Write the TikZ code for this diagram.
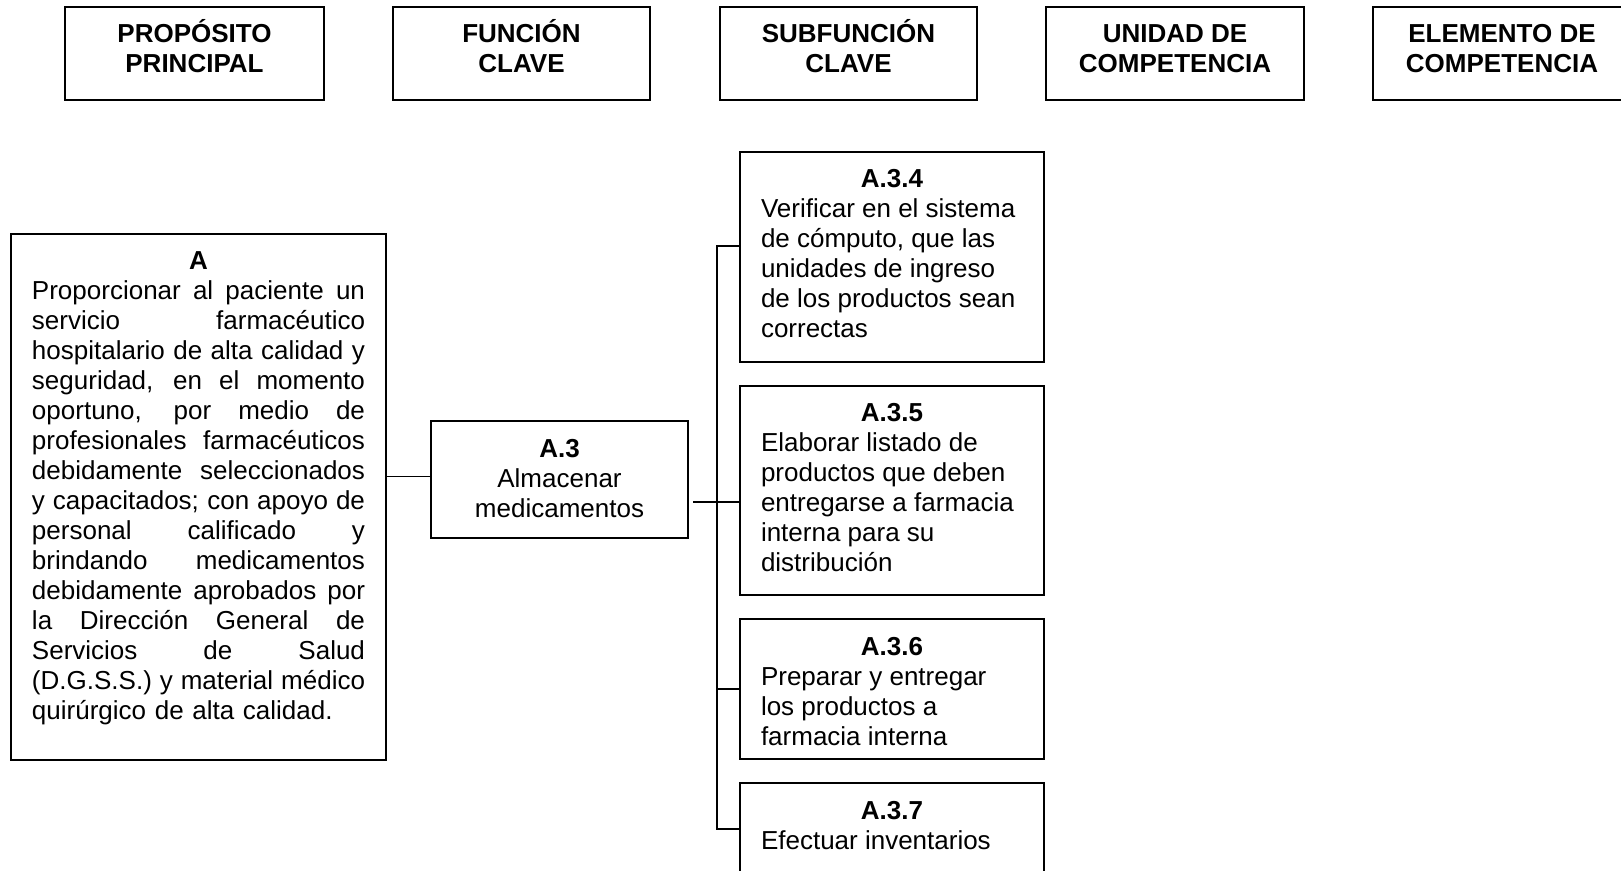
\documentclass[tikz,border=0pt]{standalone}
\usepackage{fontspec}
\setmainfont{Liberation Sans}
\usetikzlibrary{calc}
% width of the justified block in box A
\newlength\Atw
\setlength\Atw{166.5pt}
% one justified line: the word gaps stretch to the full block width
\newcommand\jl[1]{\leavevmode\hbox to \Atw{\spaceskip=3.6pt plus 1fil minus 1pt\relax #1}}

\begin{document}
\begin{tikzpicture}[x=0.5pt,y=-0.5pt,
  box/.style={draw, line width=0.75pt, inner sep=0pt, outer sep=0pt},
  lbl/.style={inner sep=0pt, outer sep=0pt, font=\fontsize{13pt}{15pt}\selectfont},
  head/.style={lbl, anchor=north, align=center, font=\fontsize{13pt}{15pt}\selectfont\bfseries},
  ttl/.style={lbl, anchor=north, font=\fontsize{13pt}{15pt}\selectfont\bfseries},
  ctr/.style={lbl, anchor=north, align=center},
  body/.style={lbl, anchor=north west, align=left},
  link/.style={line width=0.75pt}]

\useasboundingbox (0,0) rectangle (1621,871);
\clip (0,0) rectangle (1621,871);

% column headings
\node[box, minimum width=129.5pt, minimum height=46.5pt] (h1) at (194.5,53.5) {};
\node[box, minimum width=128.5pt, minimum height=46.5pt] (h2) at (521.5,53.5) {};
\node[box, minimum width=128.5pt, minimum height=46.5pt] (h3) at (848.5,53.5) {};
\node[box, minimum width=129pt, minimum height=46.5pt] (h4) at (1175,53.5) {};
\node[box, minimum width=129pt, minimum height=46.5pt] (h5) at (1502,53.5) {};
\node[head] (h1t) at ($(h1.north)+(0,15)$) {\strut\smash{PROPÓSITO}\\PRINCIPAL};
\node[head] (h2t) at ($(h2.north)+(0,15)$) {\strut\smash{FUNCIÓN}\\CLAVE};
\node[head] (h3t) at ($(h3.north)+(0,15)$) {\strut\smash{SUBFUNCIÓN}\\CLAVE};
\node[head] (h4t) at ($(h4.north)+(0,15)$) {\strut\smash{UNIDAD DE}\\COMPETENCIA};
\node[head] (h5t) at ($(h5.north)+(0,15)$) {\strut\smash{ELEMENTO DE}\\COMPETENCIA};

% main purpose
\node[box, minimum width=187.5pt, minimum height=263pt] (bA) at (198.5,497) {};
\node[ttl] (tA) at ($(bA.north)+(0,15)$) {\strut A};
\node[lbl, anchor=north, text width=\Atw, align=left] (xA) at ($(bA.north)+(0,45)$) {%
\strut\jl{Proporcionar al paciente un}\\
\jl{servicio farmacéutico}\\
\jl{hospitalario de alta calidad y}\\
\jl{seguridad, en el momento}\\
\jl{oportuno, por medio de}\\
\jl{profesionales farmacéuticos}\\
\jl{debidamente seleccionados}\\
\jl{y capacitados; con apoyo de}\\
\jl{personal calificado y}\\
\jl{brindando medicamentos}\\
\jl{debidamente aprobados por}\\
\jl{la Dirección General de}\\
\jl{Servicios de Salud}\\
\jl{(D.G.S.S.) y material médico}\\
quirúrgico de alta calidad.};

% key function
\node[box, minimum width=128.5pt, minimum height=58.5pt] (a3) at (559.5,479.5) {};
\node[ctr] (a3t) at ($(a3.north)+(0,15)$) {\strut\textbf{A.3}\\Almacenar\\medicamentos};

% key subfunctions
\node[box, minimum width=152pt, minimum height=105pt] (a34) at (892,257) {};
\node[ttl] (t34) at ($(a34.north)+(0,15)$) {\strut A.3.4};
\node[body] (x34) at ($(a34.north west)+(21,45)$) {\strut Verificar en el sistema\\de cómputo, que las\\unidades de ingreso\\de los productos sean\\correctas};

\node[box, minimum width=152pt, minimum height=104.5pt] (a35) at (892,490.5) {};
\node[ttl] (t35) at ($(a35.north)+(0,15)$) {\strut A.3.5};
\node[body] (x35) at ($(a35.north west)+(21,44)$) {\strut Elaborar listado de\\productos que deben\\entregarse a farmacia\\interna para su\\distribución};

\node[box, minimum width=152pt, minimum height=70pt] (a36) at (892,689) {};
\node[ttl] (t36) at ($(a36.north)+(0,15)$) {\strut A.3.6};
\node[body] (x36) at ($(a36.north west)+(21,45)$) {\strut Preparar y entregar\\los productos a\\farmacia interna};

\node[box, minimum width=152pt, minimum height=58.5pt] (a37) at (892,841.5) {};
\node[ttl] (t37) at ($(a37.north)+(0,15)$) {\strut A.3.7};
\node[body] (x37) at ($(a37.north west)+(21,45)$) {\strut Efectuar inventarios};

% connectors
\coordinate (jA) at ($(a3.west)+(0,-3)$);
\draw[link] (bA.east |- jA) -- (jA);

\coordinate (j4) at ($(a34.north west)+(0,94)$);
\coordinate (j5) at ($(a35.north west)+(0,116)$);
\coordinate (j6) at (a36.west);
\coordinate (j7) at ($(a37.north west)+(0,46)$);
\draw[link] (j4) -- ++(-23,0) |- (j7);
\draw[link] (j6) -- ++(-23,0);
\draw[link] ($(a3.east |- j5)+(5,0)$) -- (j5);

\end{tikzpicture}
\end{document}
